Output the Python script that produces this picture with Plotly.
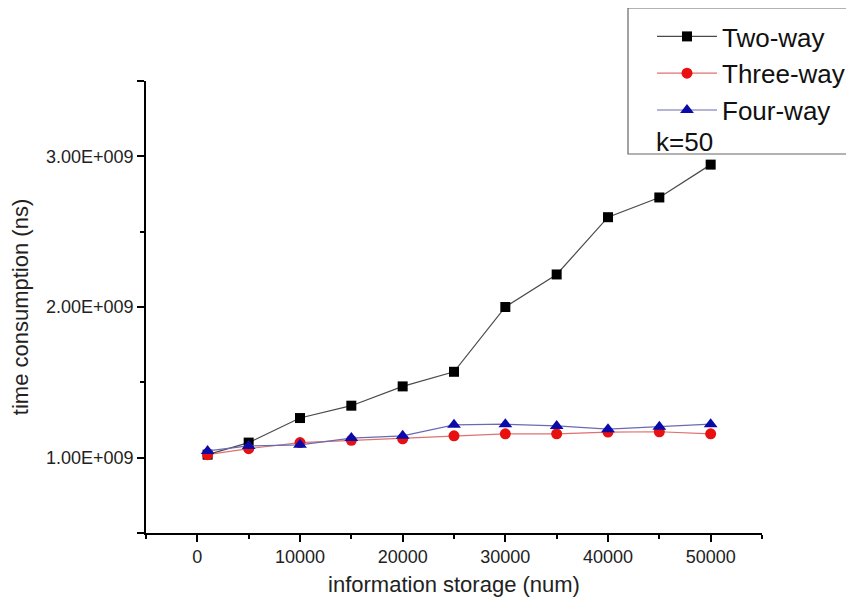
import plotly.graph_objects as go

x_vals = [1000, 5000, 10000, 15000, 20000, 25000, 30000, 35000, 40000, 45000, 50000]
two_way = [1.02e9, 1.10e9, 1.263e9, 1.345e9, 1.473e9, 1.57e9, 2.00e9, 2.216e9, 2.596e9, 2.727e9, 2.945e9]
three_way = [1.02e9, 1.06e9, 1.10e9, 1.115e9, 1.125e9, 1.145e9, 1.158e9, 1.158e9, 1.170e9, 1.172e9, 1.158e9]
four_way = [1.045e9, 1.078e9, 1.085e9, 1.13e9, 1.145e9, 1.218e9, 1.222e9, 1.211e9, 1.189e9, 1.205e9, 1.222e9]

y_tickvals = [0.5e9, 1e9, 2e9, 3e9, 3.5e9]
y_ticktext = ["", "1.00E+009", "2.00E+009", "3.00E+009", ""]
x_tickvals = [0, 10000, 20000, 30000, 40000, 50000]
x_ticktext = ["0", "10000", "20000", "30000", "40000", "50000"]

FONT = "Liberation Sans, Arial, sans-serif"

# page has an 8px body margin; figure sized/positioned so plot area is at page (146..762, 81..533)
OFF = 8
W, H = 846, 598
L, R, T, B = 146 - OFF, (OFF + W) - 762, 81 - OFF, (OFF + H) - 533
PW, PH = W - L - R, H - T - B


def px(page_x):
    return (page_x - OFF - L) / PW


def py(page_y):
    return (OFF + H - B - page_y) / PH


fig = go.Figure()
fig.add_trace(go.Scatter(x=x_vals, y=two_way, name="Two-way", mode="lines+markers",
                         line=dict(color="#4a4a4a", width=1.2),
                         marker=dict(symbol="square", size=10, color="black")))
fig.add_trace(go.Scatter(x=x_vals, y=three_way, name="Three-way", mode="lines+markers",
                         line=dict(color="#e07070", width=1.2),
                         marker=dict(symbol="circle", size=11, color="#e81010")))
fig.add_trace(go.Scatter(x=x_vals, y=four_way, name="Four-way", mode="lines+markers",
                         line=dict(color="#6a6ab0", width=1.2),
                         marker=dict(symbol="triangle-up", size=12, color="#0a0aa8")))

fig.update_layout(
    width=W, height=H,
    margin=dict(l=L, r=R, t=T, b=B, autoexpand=False),
    paper_bgcolor="white", plot_bgcolor="white",
    font=dict(family=FONT, color="#222222"),
    showlegend=True,
    legend=dict(x=px(652), y=py(13), xanchor="left", yanchor="top",
                font=dict(size=26, family=FONT, color="#111111"),
                bgcolor="rgba(0,0,0,0)", borderwidth=0,
                itemwidth=60, traceorder="normal"),
    xaxis=dict(range=[-5000, 55000], tickvals=x_tickvals, ticktext=x_ticktext,
               showgrid=False, zeroline=False, showline=True, linecolor="black", linewidth=1.5,
               ticks="outside", ticklen=7, tickwidth=1.5, tickcolor="black",
               tickfont=dict(size=18, family=FONT, color="#222222"),
               minor=dict(tickmode="linear", tick0=-5000, dtick=5000, ticks="outside",
                          ticklen=4, tickwidth=1.5, tickcolor="black", showgrid=False),
               title=dict(text="information storage (num)", font=dict(size=22, family=FONT, color="#222222"),
                          standoff=10)),
    yaxis=dict(range=[0.5e9, 3.5e9], tickvals=y_tickvals, ticktext=y_ticktext,
               showgrid=False, zeroline=False, showline=True, linecolor="black", linewidth=1.5,
               ticks="outside", ticklen=7, tickwidth=1.5, tickcolor="black",
               tickfont=dict(size=18, family=FONT, color="#222222"),
               minor=dict(tickvals=[1.5e9, 2.5e9], ticks="outside",
                          ticklen=4, tickwidth=1.5, tickcolor="black", showgrid=False),
               title=dict(text="time consumption (ns)", font=dict(size=22, family=FONT, color="#222222"),
                          standoff=11)),
    shapes=[dict(type="rect", xref="paper", yref="paper",
                 x0=px(628), x1=px(870),
                 y0=py(154), y1=py(8),
                 line=dict(color="#666666", width=1.2), fillcolor="rgba(0,0,0,0)")],
    annotations=[dict(text="k=50", xref="paper", yref="paper",
                      x=px(654), y=py(142), xanchor="left", yanchor="middle",
                      showarrow=False, font=dict(size=26, family=FONT, color="#111111"))],
)

fig.write_html("out.html")
